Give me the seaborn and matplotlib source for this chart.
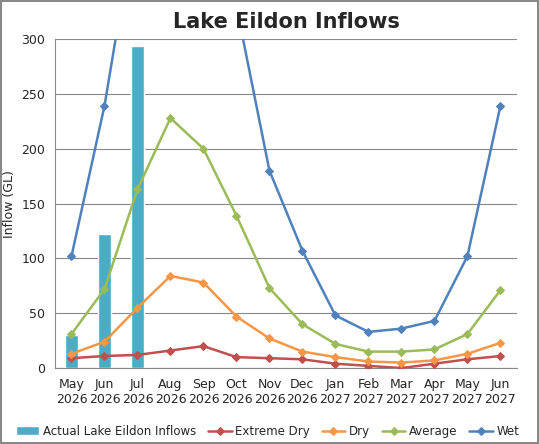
import matplotlib
matplotlib.use("Agg")
import matplotlib.pyplot as plt
import seaborn as sns
import pandas as pd
import numpy as np

months = ["May\n2026","Jun\n2026","Jul\n2026","Aug\n2026","Sep\n2026","Oct\n2026","Nov\n2026","Dec\n2026",
          "Jan\n2027","Feb\n2027","Mar\n2027","Apr\n2027","May\n2027","Jun\n2027"]
actual = [30, 122, 294]
extreme_dry = [9, 11, 12, 16, 20, 10, 9, 8, 4, 2, 0, 4, 8, 11]
dry = [13, 24, 55, 84, 78, 47, 27, 15, 10, 6, 5, 7, 13, 23]
average = [31, 72, 163, 228, 200, 139, 73, 40, 22, 15, 15, 17, 31, 71]
wet = [102, 239, 420, 550, 500, 330, 180, 107, 48, 33, 36, 43, 102, 239]

sns.set_style("white")
fig = plt.figure(figsize=(5.39, 4.44), dpi=100)
fig.patch.set_edgecolor("#888888"); fig.patch.set_linewidth(1.5)
ax = fig.add_axes([0.102, 0.171, 0.857, 0.741])

x = np.arange(len(months))
bar_df = pd.DataFrame({"x": x[:len(actual)], "v": actual})
ax.bar(bar_df["x"], bar_df["v"], width=0.42, color="#4bacc6", label="Actual Lake Eildon Inflows", zorder=2)
series = [("Extreme Dry", extreme_dry, "#c0504d"), ("Dry", dry, "#f79646"),
          ("Average", average, "#9bbb59"), ("Wet", wet, "#4f81bd")]
for name, vals, c in series:
    sns.lineplot(x=x, y=vals, ax=ax, color=c, marker="D", markersize=4.5, markeredgecolor=c,
                 linewidth=1.8, label=name, zorder=3)

ax.set_ylim(0, 300); ax.set_xlim(-0.5, len(months)-0.5)
ax.set_yticks(range(0, 301, 50))
ax.set_xticks(x); ax.set_xticklabels(months, fontsize=9)
ax.tick_params(axis="y", labelsize=9)
ax.yaxis.grid(True, color="#888888", linewidth=0.8); ax.set_axisbelow(True)
for s in ["top", "right"]:
    ax.spines[s].set_visible(False)
for s in ["left", "bottom"]:
    ax.spines[s].set_color("#888888")
ax.set_ylabel("Inflow (GL)", fontsize=9)
ax.set_xlabel("")
ax.set_title("Lake Eildon Inflows", fontsize=15, fontweight="bold", pad=8)
h, l = ax.get_legend_handles_labels()
order = [l.index("Actual Lake Eildon Inflows")] + [i for i in range(len(l)) if l[i] != "Actual Lake Eildon Inflows"]
ax.legend([h[i] for i in order], [l[i] for i in order], loc="upper center", bbox_to_anchor=(0.46, -0.14),
          ncol=5, frameon=False, fontsize=8.5, handlelength=2.0, columnspacing=1.0, handletextpad=0.3)
fig.savefig("out.png", dpi=100, edgecolor=fig.get_edgecolor())
